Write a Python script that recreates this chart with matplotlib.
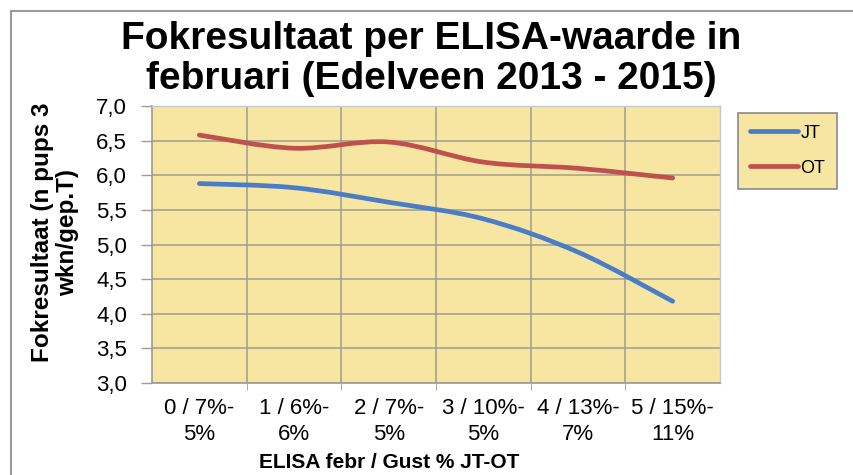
import matplotlib
matplotlib.use("Agg")
import matplotlib.pyplot as plt
from matplotlib.path import Path
from matplotlib.patches import PathPatch, Rectangle
from matplotlib.lines import Line2D
import numpy as np

plt.rcParams['font.family'] = ['Liberation Sans', 'DejaVu Sans']

categories = ["0 / 7%-\n5%", "1 / 6%-\n6%", "2 / 7%-\n5%", "3 / 10%-\n5%", "4 / 13%-\n7%", "5 / 15%-\n11%"]
jt_values = [5.88, 5.82, 5.61, 5.37, 4.89, 4.18]
ot_values = [6.58, 6.39, 6.48, 6.19, 6.10, 5.96]
y_ticks = [3.0, 3.5, 4.0, 4.5, 5.0, 5.5, 6.0, 6.5, 7.0]
y_tick_labels = ["3,0", "3,5", "4,0", "4,5", "5,0", "5,5", "6,0", "6,5", "7,0"]
series_names = ["JT", "OT"]
title = "Fokresultaat per ELISA-waarde in\nfebruari (Edelveen 2013 - 2015)"
ylabel = "Fokresultaat (n pups 3\nwkn/gep.T)"
xlabel = "ELISA febr / Gust % JT-OT"

blue = "#4A7DC8"
red = "#C0504D"
bg = "#F7E6A2"
grid = "#A09C8C"

fig = plt.figure(figsize=(8.54, 4.75), dpi=100)
fig.patch.set_facecolor("white")
# outer chart frame
frame = Rectangle((11/854, -0.1), 1.1, 1 - 11/475 + 0.1, transform=fig.transFigure,
                  facecolor="white", edgecolor="#9a9a9a", linewidth=1.5, zorder=0)
fig.patches.append(frame)

ax = fig.add_axes([152/854, 1 - 383/475, (720 - 152)/854, (383 - 106)/475])
ax.set_zorder(2)
ax.set_facecolor(bg)
x = np.arange(len(categories))
ax.set_xlim(-0.5, len(categories) - 0.5)
ax.set_ylim(3.0, 7.0)


def smooth_path(xs, ys):
    pts = np.column_stack([xs, ys]).astype(float)
    verts = [pts[0]]
    codes = [Path.MOVETO]
    n = len(pts)
    for i in range(n - 1):
        p0 = pts[i - 1] if i > 0 else pts[i]
        p1 = pts[i]
        p2 = pts[i + 1]
        p3 = pts[i + 2] if i + 2 < n else pts[i + 1]
        c1 = p1 + (p2 - p0) / 6.0
        c2 = p2 - (p3 - p1) / 6.0
        verts += [c1, c2, p2]
        codes += [Path.CURVE4] * 3
    return Path(verts, codes)


for vals, col in [(jt_values, blue), (ot_values, red)]:
    patch = PathPatch(smooth_path(x, vals), facecolor="none", edgecolor=col,
                      linewidth=3.4, capstyle="round", joinstyle="round", zorder=3)
    ax.add_patch(patch)

ax.set_yticks(y_ticks)
ax.set_yticklabels(y_tick_labels, fontsize=16)
ax.set_xticks(x)
ax.set_xticklabels(categories, fontsize=16, linespacing=1.3)
ax.set_xticks(np.arange(len(categories) - 1) + 0.5, minor=True)
ax.tick_params(axis="x", which="major", length=0, pad=11)
ax.tick_params(axis="x", which="minor", length=5, color=grid, direction="out")
ax.tick_params(axis="y", length=8, color=grid, width=1, pad=10)

ax.grid(True, axis="y", which="major", color=grid, linewidth=1.1)
ax.grid(True, axis="x", which="minor", color=grid, linewidth=1.1)
ax.set_axisbelow(True)
for side in ["top", "right"]:
    ax.spines[side].set_color("#c8c8c8")
    ax.spines[side].set_linewidth(1)
ax.spines["left"].set_color(grid)
ax.spines["bottom"].set_color(grid)
ax.spines["left"].set_linewidth(1.2)
ax.spines["bottom"].set_linewidth(1.2)

fig.text(431/854, 1 - 59/475, title, ha="center", va="center", fontsize=28,
         fontweight="bold", linespacing=1.13)
fig.text(55/854, 1 - 232/475, ylabel, ha="center", va="center", rotation=90,
         fontsize=17.5, fontweight="bold", linespacing=1.1)
fig.text(389/854, 1 - 462/475, xlabel, ha="center", va="center", fontsize=15,
         fontweight="bold")

handles = [Line2D([], [], color=blue, linewidth=3.4, solid_capstyle="round"),
           Line2D([], [], color=red, linewidth=3.4, solid_capstyle="round")]
leg = fig.legend(handles, series_names, loc="upper left",
                 bbox_to_anchor=(738/854, 1 - 113/475), fontsize=13,
                 frameon=True, fancybox=False, handlelength=2.7, handletextpad=0.1,
                 borderpad=0.65, labelspacing=1.0, borderaxespad=0)
leg.set_zorder(5)
leg.get_frame().set_facecolor(bg)
leg.get_frame().set_edgecolor("#8a8a8a")
leg.get_frame().set_linewidth(1.2)
leg.get_frame().set_alpha(1)

fig.savefig("out.png", dpi=100)
